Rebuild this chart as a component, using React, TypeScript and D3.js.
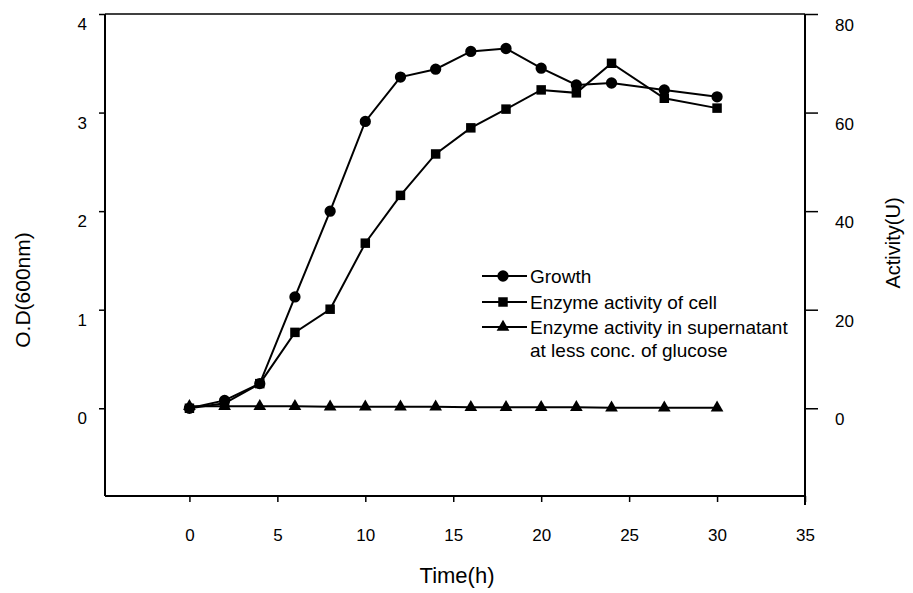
import { useEffect, useRef } from 'react';
import * as d3 from 'd3';

// sampling times (h)
const times = [0, 2, 4, 6, 8, 10, 12, 14, 16, 18, 20, 22, 24, 27, 30];
// O.D(600nm), left axis
const growth = [0, 0.08, 0.25, 1.13, 2.0, 2.91, 3.36, 3.44, 3.62, 3.65, 3.45, 3.28, 3.3, 3.23, 3.16];
// Activity(U), right axis
const cellActivity = [0, 1, 5, 15.4, 20.1, 33.5, 43.2, 51.6, 56.9, 60.7, 64.6, 64.0, 70.0, 62.9, 60.9];
const supernatantActivity = [0.4, 0.4, 0.4, 0.4, 0.3, 0.3, 0.3, 0.3, 0.2, 0.2, 0.2, 0.2, 0.1, 0.1, 0.1];

const xTicks = [0, 5, 10, 15, 20, 25, 30, 35];
const leftTicks = [0, 1, 2, 3, 4];
const rightTicks = [0, 20, 40, 60, 80];
const legendLabels = ['Growth', 'Enzyme activity of cell', 'Enzyme activity in supernatant'];
const legendExtra = 'at less conc. of glucose';

const W = 913;
const H = 593;
const FONT = 'Arial, "Liberation Sans", Helvetica, sans-serif';

const App = () => {
  const svgRef = useRef<SVGSVGElement>(null);

  useEffect(() => {
    const svg = d3.select(svgRef.current);
    svg.selectAll('*').remove();

    const left = 105, right = 805, top = 14, bottom = 496;
    const x = d3.scaleLinear().domain([-4.8, 35]).range([left, right]);
    const yL = d3.scaleLinear().domain([-0.89, 4]).range([bottom, top]);
    const yR = d3.scaleLinear().domain([-17.8, 80]).range([bottom, top]);

    // frame
    const frame = svg.append('g').attr('stroke', '#000').attr('fill', 'none');
    frame.append('line').attr('x1', left).attr('x2', left).attr('y1', top).attr('y2', bottom).attr('stroke-width', 2);
    frame.append('line').attr('x1', left).attr('x2', right).attr('y1', bottom).attr('y2', bottom).attr('stroke-width', 2);
    frame.append('line').attr('x1', right).attr('x2', right).attr('y1', top).attr('y2', bottom + 9).attr('stroke-width', 2);
    frame.append('line').attr('x1', left).attr('x2', right).attr('y1', top).attr('y2', top).attr('stroke-width', 1.5);

    // axes
    const fmt = d3.format('d');
    const gx = svg.append('g').attr('transform', `translate(0,${bottom})`)
      .call(d3.axisBottom(x).tickValues(xTicks).tickFormat(fmt).tickSize(6).tickPadding(27).tickSizeOuter(0));
    const gl = svg.append('g').attr('transform', `translate(${left},0)`)
      .call(d3.axisLeft(yL).tickValues(leftTicks).tickFormat(fmt).tickSize(6).tickPadding(12).tickSizeOuter(0));
    const gr = svg.append('g').attr('transform', `translate(${right},0)`)
      .call(d3.axisRight(yR).tickValues(rightTicks).tickFormat(fmt).tickSize(13).tickPadding(17).tickSizeOuter(0));

    [gx, gl, gr].forEach(g => {
      g.select('.domain').remove();
      g.selectAll('line').attr('stroke', '#000').attr('stroke-width', 1.5);
      g.selectAll('text').attr('fill', '#000').style('font', `17px ${FONT}`);
    });
    gl.selectAll('text').attr('y', 10);
    gr.selectAll('text').attr('y', 11);

    // titles
    svg.append('text').attr('transform', 'translate(30,290) rotate(-90)')
      .attr('text-anchor', 'middle').style('font', `21px ${FONT}`).text('O.D(600nm)');
    svg.append('text').attr('transform', 'translate(900,243) rotate(-90)')
      .attr('text-anchor', 'middle').style('font', `20px ${FONT}`).text('Activity(U)');
    svg.append('text').attr('x', 457).attr('y', 583)
      .attr('text-anchor', 'middle').style('font', `22px ${FONT}`).text('Time(h)');

    const series = [
      { values: supernatantActivity, y: yR, symbol: d3.symbolTriangle, size: 70 },
      { values: cellActivity, y: yR, symbol: d3.symbolSquare, size: 90 },
      { values: growth, y: yL, symbol: d3.symbolCircle, size: 100 },
    ];

    series.forEach(s => {
      const pts = times.map((t, i) => [x(t), s.y(s.values[i])] as [number, number]);
      svg.append('path')
        .attr('d', d3.line()(pts))
        .attr('fill', 'none')
        .attr('stroke', '#000')
        .attr('stroke-width', 2);
      svg.append('g').selectAll('path').data(pts).join('path')
        .attr('transform', d => `translate(${d[0]},${d[1]})`)
        .attr('d', d3.symbol().type(s.symbol).size(s.size)())
        .attr('fill', '#000');
    });

    // legend
    const legendSymbols = [d3.symbolCircle, d3.symbolSquare, d3.symbolTriangle];
    const legendSizes = [100, 90, 70];
    const lg = svg.append('g');
    const rowY = [276, 302, 327];
    legendLabels.forEach((label, i) => {
      lg.append('line').attr('x1', 482).attr('x2', 527).attr('y1', rowY[i]).attr('y2', rowY[i])
        .attr('stroke', '#000').attr('stroke-width', 2);
      lg.append('path').attr('transform', `translate(503,${rowY[i]})`)
        .attr('d', d3.symbol().type(legendSymbols[i]).size(legendSizes[i])());
      lg.append('text').attr('x', 530).attr('y', rowY[i]).attr('dy', '0.35em')
        .style('font', `19px ${FONT}`).text(label);
    });
    lg.append('text').attr('x', 530).attr('y', 350).attr('dy', '0.35em')
      .style('font', `19px ${FONT}`).text(legendExtra);
  }, []);

  return (
    <svg ref={svgRef} width={W} height={H}
      style={{ position: 'absolute', left: 0, top: 0, background: '#fff' }} />
  );
};

export default App;
